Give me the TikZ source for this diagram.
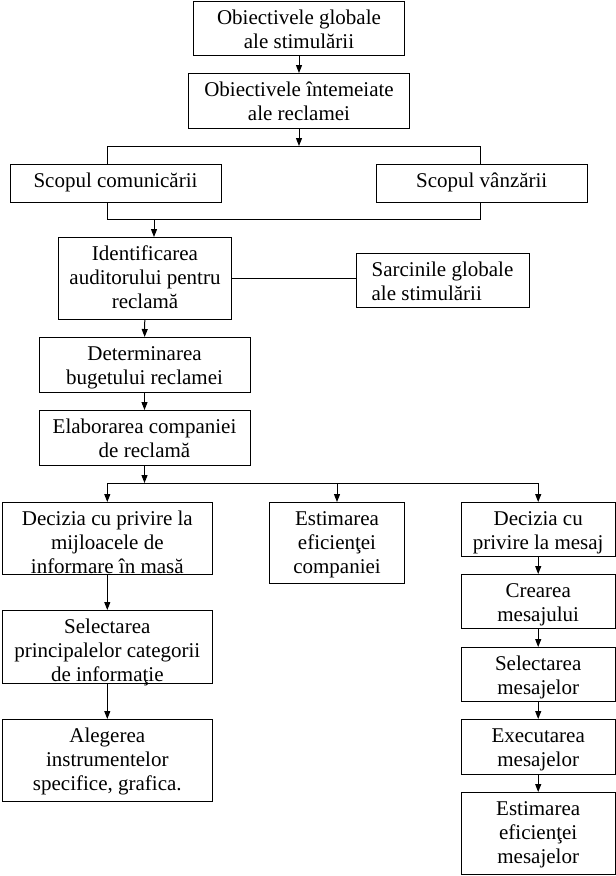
\documentclass[tikz,border=0pt]{standalone}
\usepackage{fontspec}
\setmainfont{Liberation Serif}
\usetikzlibrary{calc, arrows.meta}

\begin{document}
\begin{tikzpicture}[
        x=1pt, y=-1pt,
        font=\fontsize{21}{24}\selectfont,
        blk/.style={rectangle, draw=black, line width=1pt, align=center, anchor=north,
            inner xsep=2pt, inner ysep=0pt},
        l1/.style={text height=23pt},
        l2/.style={text height=47pt},
        l3/.style={text height=71pt},
        arr/.style={-{Triangle[length=8pt,width=6pt]}, line width=1pt},
        lin/.style={line width=1pt}
    ]
    \useasboundingbox (0,0) rectangle (616,876);
    \node[blk, l2, text depth=7pt, minimum width=211pt]  (glob)  at (299,1)     {Obiectivele globale\\ale stimulării};
    \node[blk, l2, text depth=8pt, minimum width=221pt]  (intem) at (299,73)    {Obiectivele întemeiate\\ale reclamei};
    \node[blk, l1, text depth=15pt, minimum width=211pt] (scomm) at (115.5,164) {Scopul comunicării};
    \node[blk, l1, text depth=15pt, minimum width=211pt] (svanz) at (481.7,164) {Scopul vânzării};
    \node[blk, l3, text depth=11pt, minimum width=173pt] (ident) at (145,237)   {Identificarea\\auditorului pentru\\reclamă};
    \node[blk, l2, text depth=7pt, align=left, minimum width=173pt] (sarc) at (442.5,253) {Sarcinile globale\\ale stimulării};
    \node[blk, l2, text depth=8pt, minimum width=211pt]  (buget) at (144.5,337) {Determinarea\\bugetului reclamei};
    \node[blk, l2, text depth=8pt, minimum width=211pt]  (elab)  at (144.5,410) {Elaborarea companiei\\de reclamă};
    \node[blk, l3, text depth=1pt, minimum width=210.6pt]  (mijl)   at (107.3,502) {Decizia cu privire la\\mijloacele de\\informare în masă};
    \node[blk, l3, text depth=2pt, minimum width=210.6pt]  (selcat) at (107.3,610) {Selectarea\\principalelor categorii\\de informaţie};
    \node[blk, l3, text depth=11pt, minimum width=210.6pt] (alege)  at (107.3,719) {Alegerea\\instrumentelor\\specifice, grafica.};
    \node[blk, l3, text depth=10.3pt, minimum width=134.8pt] (estcomp) at (337,502) {Estimarea\\eficienţei\\companiei};
    \node[blk, l2, text depth=7.3pt, minimum width=153.7pt] (decmes) at (538.2,502) {Decizia cu\\privire la mesaj};
    \node[blk, l2, text depth=7pt, minimum width=153.7pt]   (crear)  at (538.2,574) {Crearea\\mesajului};
    \node[blk, l2, text depth=7pt, minimum width=153.7pt]   (selmes) at (538.2,647) {Selectarea\\mesajelor};
    \node[blk, l2, text depth=8pt, minimum width=153.7pt]   (exec)   at (538.2,719) {Executarea\\mesajelor};
    \node[blk, l3, text depth=11pt, minimum width=153.7pt]  (estmes) at (538.2,792) {Estimarea\\eficienţei\\mesajelor};
    \coordinate (tl) at (107,146);
    \coordinate (tr) at (480.5,146);
    \coordinate (bl) at (107,219);
    \coordinate (br) at (480.5,219);
    \coordinate (bm) at (154,219);
    \coordinate (fork) at (145,483);

    \draw[arr] (glob) -- (intem);
    \draw[arr] (intem.south) -- (intem.south |- tl);
    \draw[lin] (scomm.north -| tl) -- (tl) -- (tr) -- (svanz.north -| tr);
    \draw[lin] (scomm.south -| bl) -- (bl) -- (br) -- (svanz.south -| br);
    \draw[arr] (bm) -- (bm |- ident.north);
    \draw[lin] (ident.east) -- (ident.east -| sarc.west);
    \draw[arr] (ident) -- (buget);
    \draw[arr] (buget) -- (elab);
    \draw[arr] (elab.south) -- (elab.south |- fork);
    \draw[lin] (mijl.north |- fork) -- (decmes.north |- fork);
    \draw[arr] (mijl.north |- fork) -- (mijl.north);
    \draw[arr] (estcomp.north |- fork) -- (estcomp.north);
    \draw[arr] (decmes.north |- fork) -- (decmes.north);
    \draw[arr] (mijl.south) -- (selcat.north);
    \draw[arr] (selcat.south) -- (alege.north);
    \draw[arr] (decmes) -- (crear);
    \draw[arr] (crear) -- (selmes);
    \draw[arr] (selmes) -- (exec);
    \draw[arr] (exec) -- (estmes);
\end{tikzpicture}
\end{document}
